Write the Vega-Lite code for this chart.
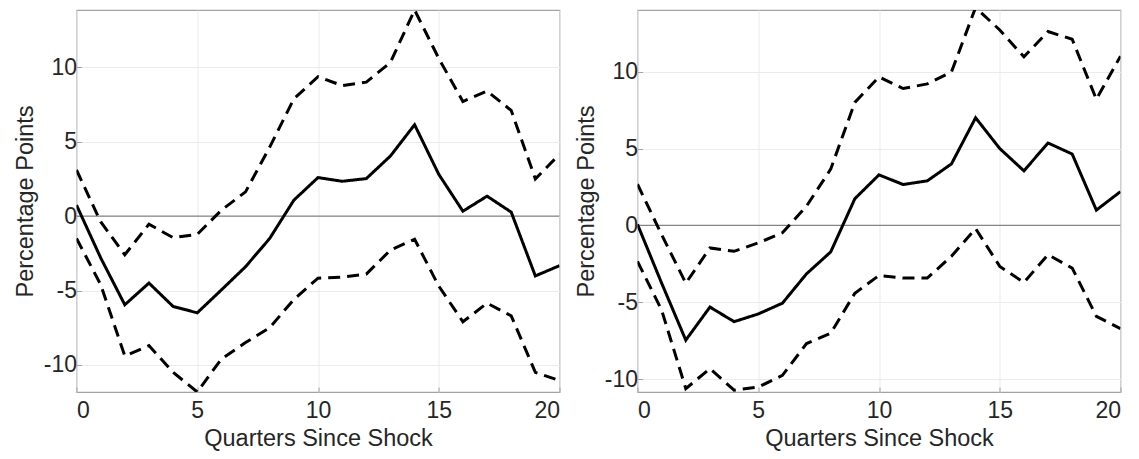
{
  "$schema": "https://vega.github.io/schema/vega-lite/v6.json",
  "background": "white",
  "padding": {"left": 12.5, "top": 9, "right": 5, "bottom": 0},
  "bounds": "flush",
  "spacing": 78,
  "datasets": {
    "left": [
      {"q": 0, "v": 0.74, "s": "irf"}, {"q": 1, "v": -2.8, "s": "irf"}, {"q": 2, "v": -5.96, "s": "irf"},
      {"q": 3, "v": -4.5, "s": "irf"}, {"q": 4, "v": -6.07, "s": "irf"}, {"q": 5, "v": -6.5, "s": "irf"},
      {"q": 6, "v": -4.96, "s": "irf"}, {"q": 7, "v": -3.4, "s": "irf"}, {"q": 8, "v": -1.5, "s": "irf"},
      {"q": 9, "v": 1.07, "s": "irf"}, {"q": 10, "v": 2.59, "s": "irf"}, {"q": 11, "v": 2.34, "s": "irf"},
      {"q": 12, "v": 2.52, "s": "irf"}, {"q": 13, "v": 4.04, "s": "irf"}, {"q": 14, "v": 6.14, "s": "irf"},
      {"q": 15, "v": 2.81, "s": "irf"}, {"q": 16, "v": 0.33, "s": "irf"}, {"q": 17, "v": 1.34, "s": "irf"},
      {"q": 18, "v": 0.27, "s": "irf"}, {"q": 19, "v": -4.02, "s": "irf"}, {"q": 20, "v": -3.33, "s": "irf"},
      {"q": 0, "v": 3.1, "s": "upper"}, {"q": 1, "v": -0.38, "s": "upper"}, {"q": 2, "v": -2.6, "s": "upper"},
      {"q": 3, "v": -0.54, "s": "upper"}, {"q": 4, "v": -1.45, "s": "upper"}, {"q": 5, "v": -1.23, "s": "upper"},
      {"q": 6, "v": 0.4, "s": "upper"}, {"q": 7, "v": 1.63, "s": "upper"}, {"q": 8, "v": 4.64, "s": "upper"},
      {"q": 9, "v": 7.88, "s": "upper"}, {"q": 10, "v": 9.37, "s": "upper"}, {"q": 11, "v": 8.77, "s": "upper"},
      {"q": 12, "v": 9.0, "s": "upper"}, {"q": 13, "v": 10.33, "s": "upper"}, {"q": 14, "v": 13.85, "s": "upper"},
      {"q": 15, "v": 10.6, "s": "upper"}, {"q": 16, "v": 7.7, "s": "upper"}, {"q": 17, "v": 8.4, "s": "upper"},
      {"q": 18, "v": 7.1, "s": "upper"}, {"q": 19, "v": 2.5, "s": "upper"}, {"q": 20, "v": 4.15, "s": "upper"},
      {"q": 0, "v": -1.5, "s": "lower"}, {"q": 1, "v": -4.6, "s": "lower"}, {"q": 2, "v": -9.4, "s": "lower"},
      {"q": 3, "v": -8.7, "s": "lower"}, {"q": 4, "v": -10.5, "s": "lower"}, {"q": 5, "v": -11.82, "s": "lower"},
      {"q": 6, "v": -9.6, "s": "lower"}, {"q": 7, "v": -8.5, "s": "lower"}, {"q": 8, "v": -7.5, "s": "lower"},
      {"q": 9, "v": -5.6, "s": "lower"}, {"q": 10, "v": -4.17, "s": "lower"}, {"q": 11, "v": -4.1, "s": "lower"},
      {"q": 12, "v": -3.9, "s": "lower"}, {"q": 13, "v": -2.28, "s": "lower"}, {"q": 14, "v": -1.56, "s": "lower"},
      {"q": 15, "v": -4.7, "s": "lower"}, {"q": 16, "v": -7.1, "s": "lower"}, {"q": 17, "v": -5.85, "s": "lower"},
      {"q": 18, "v": -6.7, "s": "lower"}, {"q": 19, "v": -10.5, "s": "lower"}, {"q": 20, "v": -11.05, "s": "lower"}
    ],
    "right": [
      {"q": 0, "v": 0.07, "s": "irf"}, {"q": 1, "v": -3.75, "s": "irf"}, {"q": 2, "v": -7.45, "s": "irf"},
      {"q": 3, "v": -5.3, "s": "irf"}, {"q": 4, "v": -6.25, "s": "irf"}, {"q": 5, "v": -5.75, "s": "irf"},
      {"q": 6, "v": -5.05, "s": "irf"}, {"q": 7, "v": -3.14, "s": "irf"}, {"q": 8, "v": -1.72, "s": "irf"},
      {"q": 9, "v": 1.74, "s": "irf"}, {"q": 10, "v": 3.29, "s": "irf"}, {"q": 11, "v": 2.66, "s": "irf"},
      {"q": 12, "v": 2.9, "s": "irf"}, {"q": 13, "v": 4.0, "s": "irf"}, {"q": 14, "v": 7.0, "s": "irf"},
      {"q": 15, "v": 5.0, "s": "irf"}, {"q": 16, "v": 3.55, "s": "irf"}, {"q": 17, "v": 5.36, "s": "irf"},
      {"q": 18, "v": 4.64, "s": "irf"}, {"q": 19, "v": 1.0, "s": "irf"}, {"q": 20, "v": 2.2, "s": "irf"},
      {"q": 0, "v": 2.68, "s": "upper"}, {"q": 1, "v": -0.6, "s": "upper"}, {"q": 2, "v": -3.75, "s": "upper"},
      {"q": 3, "v": -1.46, "s": "upper"}, {"q": 4, "v": -1.68, "s": "upper"}, {"q": 5, "v": -1.13, "s": "upper"},
      {"q": 6, "v": -0.48, "s": "upper"}, {"q": 7, "v": 1.26, "s": "upper"}, {"q": 8, "v": 3.66, "s": "upper"},
      {"q": 9, "v": 8.0, "s": "upper"}, {"q": 10, "v": 9.65, "s": "upper"}, {"q": 11, "v": 8.9, "s": "upper"},
      {"q": 12, "v": 9.2, "s": "upper"}, {"q": 13, "v": 9.98, "s": "upper"}, {"q": 14, "v": 14.16, "s": "upper"},
      {"q": 15, "v": 12.7, "s": "upper"}, {"q": 16, "v": 10.96, "s": "upper"}, {"q": 17, "v": 12.6, "s": "upper"},
      {"q": 18, "v": 12.1, "s": "upper"}, {"q": 19, "v": 8.2, "s": "upper"}, {"q": 20, "v": 11.0, "s": "upper"},
      {"q": 0, "v": -2.33, "s": "lower"}, {"q": 1, "v": -5.5, "s": "lower"}, {"q": 2, "v": -10.6, "s": "lower"},
      {"q": 3, "v": -9.3, "s": "lower"}, {"q": 4, "v": -10.7, "s": "lower"}, {"q": 5, "v": -10.5, "s": "lower"},
      {"q": 6, "v": -9.74, "s": "lower"}, {"q": 7, "v": -7.67, "s": "lower"}, {"q": 8, "v": -7.0, "s": "lower"},
      {"q": 9, "v": -4.4, "s": "lower"}, {"q": 10, "v": -3.25, "s": "lower"}, {"q": 11, "v": -3.42, "s": "lower"},
      {"q": 12, "v": -3.42, "s": "lower"}, {"q": 13, "v": -2.0, "s": "lower"}, {"q": 14, "v": -0.2, "s": "lower"},
      {"q": 15, "v": -2.66, "s": "lower"}, {"q": 16, "v": -3.7, "s": "lower"}, {"q": 17, "v": -1.9, "s": "lower"},
      {"q": 18, "v": -2.77, "s": "lower"}, {"q": 19, "v": -5.9, "s": "lower"}, {"q": 20, "v": -6.7, "s": "lower"}
    ],
    "zero": [{"y": 0}]
  },
  "hconcat": [
    {
      "width": 483,
      "height": 382,
      "layer": [
        {
          "data": {"name": "zero"},
          "mark": {"type": "rule", "stroke": "#858585", "strokeWidth": 1.2},
          "encoding": {
            "y": {"field": "y", "type": "quantitative", "scale": {"domain": [-11.82, 13.85], "nice": false, "zero": false}}
          }
        },
        {
          "data": {"name": "left"},
          "mark": {"type": "line", "color": "black", "strokeWidth": 3, "clip": true},
          "encoding": {
            "x": {"field": "q", "type": "quantitative", "scale": {"domain": [0, 20], "nice": false},
                  "axis": {"values": [0, 5, 10, 15, 20]}, "title": "Quarters Since Shock"},
            "y": {"field": "v", "type": "quantitative", "scale": {"domain": [-11.82, 13.85], "nice": false, "zero": false},
                  "axis": {"values": [-10, -5, 0, 5, 10]}, "title": "Percentage Points"},
            "detail": {"field": "s"},
            "strokeDash": {"field": "s", "type": "nominal", "legend": null,
                           "scale": {"domain": ["irf", "upper", "lower"], "range": [[1, 0], [12, 7], [12, 7]]}}
          }
        }
      ]
    },
    {
      "width": 483,
      "height": 382,
      "layer": [
        {
          "data": {"name": "zero"},
          "mark": {"type": "rule", "stroke": "#858585", "strokeWidth": 1.2},
          "encoding": {
            "y": {"field": "y", "type": "quantitative", "scale": {"domain": [-10.82, 14.0], "nice": false, "zero": false}}
          }
        },
        {
          "data": {"name": "right"},
          "mark": {"type": "line", "color": "black", "strokeWidth": 3, "clip": true},
          "encoding": {
            "x": {"field": "q", "type": "quantitative", "scale": {"domain": [0, 20], "nice": false},
                  "axis": {"values": [0, 5, 10, 15, 20]}, "title": "Quarters Since Shock"},
            "y": {"field": "v", "type": "quantitative", "scale": {"domain": [-10.82, 14.0], "nice": false, "zero": false},
                  "axis": {"values": [-10, -5, 0, 5, 10]}, "title": "Percentage Points"},
            "detail": {"field": "s"},
            "strokeDash": {"field": "s", "type": "nominal", "legend": null,
                           "scale": {"domain": ["irf", "upper", "lower"], "range": [[1, 0], [12, 7], [12, 7]]}}
          }
        }
      ]
    }
  ],
  "config": {
    "font": "Liberation Sans",
    "view": {"stroke": "#a3a3a3", "strokeWidth": 1.2},
    "axis": {
      "domain": false,
      "grid": true,
      "gridColor": "#ebebeb",
      "gridWidth": 1,
      "tickColor": "#a3a3a3",
      "tickSize": -5,
      "labelExpr": "toString(datum.value)",
      "labelFont": "Liberation Sans",
      "labelFontSize": 23,
      "labelColor": "#262626",
      "titleFont": "Liberation Sans",
      "titleFontSize": 23.5,
      "titleFontWeight": "normal",
      "titleColor": "#262626"
    },
    "axisY": {"labelPadding": 5, "titlePadding": 6},
    "axisX": {"labelPadding": 12, "titlePadding": 4}
  }
}
